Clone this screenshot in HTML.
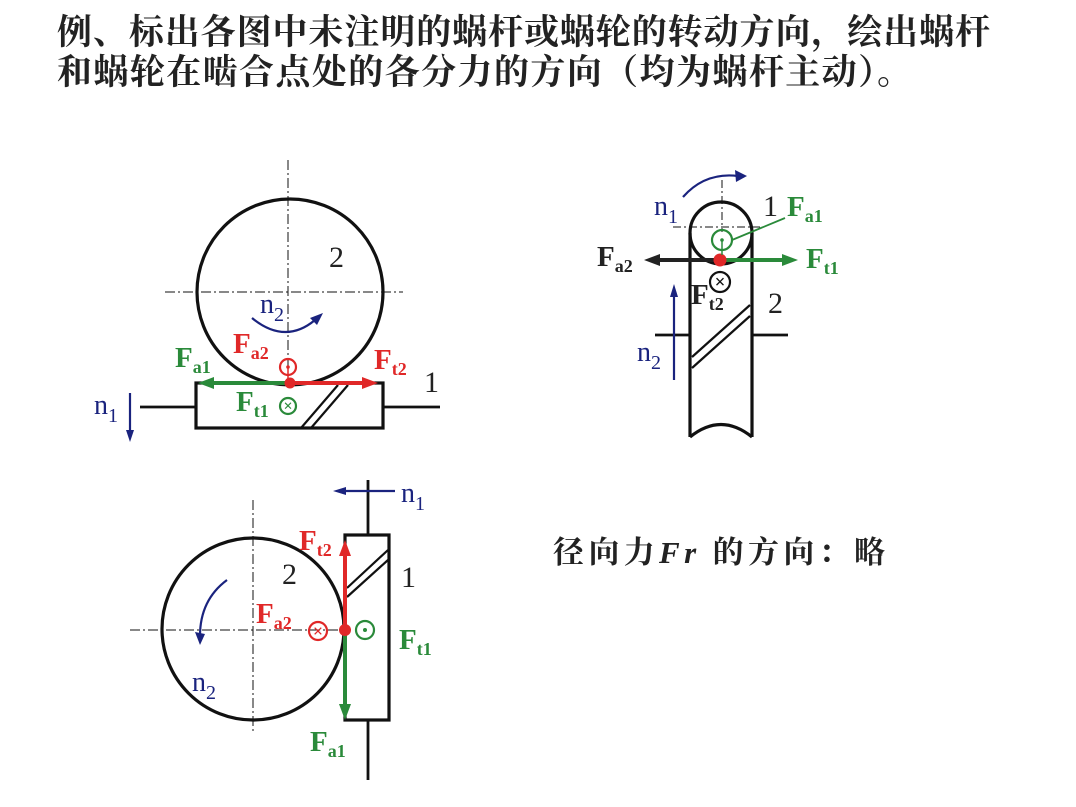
<!DOCTYPE html>
<html><head><meta charset="utf-8"><style>
html,body{margin:0;padding:0;background:#fff;}
svg{display:block}
text{font-family:"Liberation Serif","Noto Serif CJK SC",serif;}
.cn{font-family:"Liberation Serif","Noto Serif CJK SC","Noto Sans CJK SC",serif;font-weight:bold;}
.b{font-weight:bold}
</style></head><body>
<svg width="1076" height="807" viewBox="0 0 1076 807" xmlns="http://www.w3.org/2000/svg">
<text class="cn" x="57" y="44" font-size="35" textLength="933" lengthAdjust="spacing" fill="#222">例、标出各图中未注明的蜗杆或蜗轮的转动方向，绘出蜗杆</text>
<text class="cn" x="57" y="84" font-size="35" textLength="855" lengthAdjust="spacing" fill="#222">和蜗轮在啮合点处的各分力的方向（均为蜗杆主动）。</text>

<!-- Diagram 1 -->
<g fill="none" stroke="#111">
<line x1="288" y1="160" x2="288" y2="385" stroke-width="1" stroke-dasharray="10,3,2,3"/>
<line x1="165" y1="292" x2="403" y2="292" stroke-width="1" stroke-dasharray="10,3,2,3"/>
<circle cx="290" cy="292" r="93" stroke-width="3.2"/>
<rect x="196" y="383" width="187" height="45" stroke-width="3.2"/>
<line x1="140" y1="407" x2="196" y2="407" stroke-width="2.8"/>
<line x1="383" y1="407" x2="440" y2="407" stroke-width="2.8"/>
<line x1="301" y1="428" x2="338" y2="385" stroke-width="2.2"/>
<line x1="311" y1="428" x2="348" y2="385" stroke-width="2.2"/>
</g>
<line x1="288" y1="383" x2="208" y2="383" stroke="#2a8a3a" stroke-width="4"/>
<polygon points="198,383 214,377 214,389" fill="#2a8a3a"/>
<line x1="288" y1="383" x2="365" y2="383" stroke="#e02828" stroke-width="4"/>
<polygon points="378,383 362,377 362,389" fill="#e02828"/>
<circle cx="290" cy="383" r="5.5" fill="#e02828"/>
<circle cx="288" cy="367" r="8" fill="none" stroke="#e02828" stroke-width="2.2"/>
<circle cx="288" cy="367" r="1.8" fill="#e02828"/>
<line x1="288" y1="367" x2="288" y2="383" stroke="#e02828" stroke-width="1.5"/>
<circle cx="288" cy="406" r="8" fill="none" stroke="#2a8a3a" stroke-width="2.2"/>
<text x="288" y="411" font-size="16" fill="#2a8a3a" text-anchor="middle" class="b">×</text>
<line x1="130" y1="393" x2="130" y2="432" stroke="#1a237e" stroke-width="2.2"/>
<polygon points="130,442 126,430 134,430" fill="#1a237e"/>
<path d="M252,318 Q285,345 315,320" fill="none" stroke="#1a237e" stroke-width="2.2"/>
<polygon points="323,313 310,318 317,325" fill="#1a237e"/>
<text x="329" y="267" font-size="30" fill="#222">2</text>
<text x="424" y="392" font-size="30" fill="#222">1</text>
<text x="260" y="313" font-size="28" fill="#1a237e">n<tspan font-size="20" dy="8">2</tspan></text>
<text x="94" y="414" font-size="28" fill="#1a237e">n<tspan font-size="20" dy="8">1</tspan></text>
<text x="233" y="353" font-size="29" fill="#e02828" class="b">F<tspan font-size="18" dy="6">a2</tspan></text>
<text x="374" y="369" font-size="29" fill="#e02828" class="b">F<tspan font-size="18" dy="6">t2</tspan></text>
<text x="175" y="367" font-size="29" fill="#2a8a3a" class="b">F<tspan font-size="18" dy="6">a1</tspan></text>
<text x="236" y="411" font-size="29" fill="#2a8a3a" class="b">F<tspan font-size="18" dy="6">t1</tspan></text>

<!-- Diagram 2 -->
<g fill="none" stroke="#111">
<line x1="722" y1="180" x2="722" y2="232" stroke-width="1" stroke-dasharray="8,3,2,3"/>
<line x1="673" y1="227" x2="760" y2="227" stroke-width="1" stroke-dasharray="8,3,2,3"/>
<circle cx="721" cy="233" r="31" stroke-width="3.2"/>
<line x1="690" y1="233" x2="690" y2="437" stroke-width="3.2"/>
<line x1="752" y1="233" x2="752" y2="437" stroke-width="3.2"/>
<path d="M690,437 Q721,412 752,437" stroke-width="3.2"/>
<line x1="655" y1="335" x2="690" y2="335" stroke-width="2.8"/>
<line x1="752" y1="335" x2="788" y2="335" stroke-width="2.8"/>
<line x1="692" y1="357" x2="750" y2="305" stroke-width="2.2"/>
<line x1="692" y1="368" x2="750" y2="316" stroke-width="2.2"/>
</g>
<line x1="720" y1="260" x2="655" y2="260" stroke="#222" stroke-width="4"/>
<polygon points="644,260 660,254 660,266" fill="#222"/>
<line x1="720" y1="260" x2="785" y2="260" stroke="#2a8a3a" stroke-width="4"/>
<polygon points="798,260 782,254 782,266" fill="#2a8a3a"/>
<circle cx="720" cy="260" r="6.5" fill="#e02828"/>
<circle cx="722" cy="240" r="10" fill="none" stroke="#2a8a3a" stroke-width="2.2"/>
<circle cx="722" cy="240" r="1.8" fill="#2a8a3a"/>
<line x1="722" y1="240" x2="722" y2="255" stroke="#2a8a3a" stroke-width="1.5"/>
<line x1="732" y1="240" x2="785" y2="218" stroke="#2a8a3a" stroke-width="1.8"/>
<circle cx="720" cy="282" r="10" fill="none" stroke="#111" stroke-width="2.2"/>
<text x="720" y="288" font-size="19" fill="#111" text-anchor="middle" class="b">×</text>
<line x1="674" y1="380" x2="674" y2="296" stroke="#1a237e" stroke-width="2.2"/>
<polygon points="674,284 670,297 678,297" fill="#1a237e"/>
<path d="M683,197 Q705,172 738,176" fill="none" stroke="#1a237e" stroke-width="2.2"/>
<polygon points="747,176 735,170 736,182" fill="#1a237e"/>
<text x="654" y="215" font-size="28" fill="#1a237e">n<tspan font-size="20" dy="8">1</tspan></text>
<text x="637" y="361" font-size="28" fill="#1a237e">n<tspan font-size="20" dy="8">2</tspan></text>
<text x="763" y="216" font-size="30" fill="#222">1</text>
<text x="768" y="313" font-size="30" fill="#222">2</text>
<text x="787" y="216" font-size="29" fill="#2a8a3a" class="b">F<tspan font-size="18" dy="6">a1</tspan></text>
<text x="806" y="268" font-size="29" fill="#2a8a3a" class="b">F<tspan font-size="18" dy="6">t1</tspan></text>
<text x="597" y="266" font-size="29" fill="#222" class="b">F<tspan font-size="18" dy="6">a2</tspan></text>
<text x="691" y="304" font-size="29" fill="#222" class="b">F<tspan font-size="18" dy="6">t2</tspan></text>

<!-- Diagram 3 -->
<g fill="none" stroke="#111">
<line x1="253" y1="500" x2="253" y2="732" stroke-width="1" stroke-dasharray="10,3,2,3"/>
<line x1="130" y1="630" x2="345" y2="630" stroke-width="1" stroke-dasharray="10,3,2,3"/>
<circle cx="253" cy="629" r="91" stroke-width="3.2"/>
<rect x="345" y="535" width="44" height="185" stroke-width="3.2"/>
<line x1="368" y1="480" x2="368" y2="535" stroke-width="2.8"/>
<line x1="368" y1="720" x2="368" y2="780" stroke-width="2.8"/>
<line x1="347" y1="588" x2="388" y2="550" stroke-width="2.2"/>
<line x1="347" y1="597" x2="388" y2="560" stroke-width="2.2"/>
</g>
<line x1="345" y1="630" x2="345" y2="553" stroke="#e02828" stroke-width="4"/>
<polygon points="345,540 339,556 351,556" fill="#e02828"/>
<line x1="345" y1="630" x2="345" y2="707" stroke="#2a8a3a" stroke-width="4"/>
<polygon points="345,720 339,704 351,704" fill="#2a8a3a"/>
<circle cx="345" cy="630" r="6" fill="#e02828"/>
<circle cx="318" cy="631" r="9" fill="none" stroke="#e02828" stroke-width="2.2"/>
<text x="318" y="637" font-size="18" fill="#e02828" text-anchor="middle" class="b">×</text>
<circle cx="365" cy="630" r="9" fill="none" stroke="#2a8a3a" stroke-width="2.2"/>
<circle cx="365" cy="630" r="2" fill="#2a8a3a"/>
<line x1="395" y1="491" x2="345" y2="491" stroke="#1a237e" stroke-width="2.2"/>
<polygon points="333,491 346,487 346,495" fill="#1a237e"/>
<path d="M227,580 Q200,600 200,636" fill="none" stroke="#1a237e" stroke-width="2.2"/>
<polygon points="200,645 195,632 205,634" fill="#1a237e"/>
<text x="401" y="502" font-size="28" fill="#1a237e">n<tspan font-size="20" dy="8">1</tspan></text>
<text x="192" y="691" font-size="28" fill="#1a237e">n<tspan font-size="20" dy="8">2</tspan></text>
<text x="282" y="584" font-size="30" fill="#222">2</text>
<text x="401" y="587" font-size="30" fill="#222">1</text>
<text x="299" y="550" font-size="29" fill="#e02828" class="b">F<tspan font-size="18" dy="6">t2</tspan></text>
<text x="256" y="623" font-size="29" fill="#e02828" class="b">F<tspan font-size="18" dy="6">a2</tspan></text>
<text x="399" y="649" font-size="29" fill="#2a8a3a" class="b">F<tspan font-size="18" dy="6">t1</tspan></text>
<text x="310" y="751" font-size="29" fill="#2a8a3a" class="b">F<tspan font-size="18" dy="6">a1</tspan></text>

<text class="cn" x="553" y="563" font-size="31" textLength="332" lengthAdjust="spacing" fill="#222">径向力<tspan font-style="italic">Fr</tspan> 的方向：略</text>
</svg>
</body></html>
